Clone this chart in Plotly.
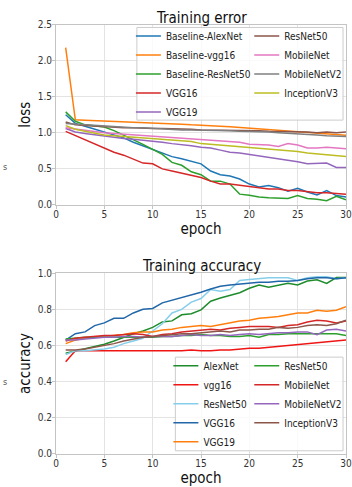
import plotly.graph_objects as go

FONT = "DejaVu Sans Condensed, DejaVu Sans"

epochs = list(range(1, 31))

# ---- Training error (loss) ----
loss_names = ["Baseline-AlexNet", "Baseline-vgg16", "Baseline-ResNet50", "VGG16", "VGG19",
              "ResNet50", "MobileNet", "MobileNetV2", "InceptionV3"]
loss_colors = ["#1f77b4", "#ff7f0e", "#2ca02c", "#d62728", "#9467bd",
               "#8c564b", "#e377c2", "#7f7f7f", "#bcbd22"]
loss_baseline_alexnet = [1.25, 1.13, 1.09, 1.05, 1.02, 0.97, 0.93, 0.87, 0.82, 0.77, 0.72, 0.67, 0.64, 0.61, 0.57,
                         0.47, 0.42, 0.40, 0.36, 0.29, 0.25, 0.27, 0.24, 0.19, 0.23, 0.18, 0.14, 0.20, 0.13, 0.11]
loss_baseline_vgg16 = [2.18, 1.18, 1.175, 1.17, 1.16, 1.155, 1.15, 1.15, 1.145, 1.14, 1.14, 1.13, 1.12, 1.11, 1.10,
                       1.095, 1.09, 1.085, 1.075, 1.07, 1.06, 1.05, 1.04, 1.03, 1.02, 1.01, 1.00, 0.985, 0.97, 0.965]
loss_baseline_resnet50 = [1.29, 1.16, 1.11, 1.09, 1.08, 1.03, 0.97, 0.91, 0.84, 0.77, 0.70, 0.59, 0.55, 0.46, 0.42,
                          0.33, 0.33, 0.29, 0.15, 0.135, 0.11, 0.10, 0.095, 0.09, 0.13, 0.09, 0.08, 0.06, 0.12, 0.07]
loss_vgg16 = [1.02, 0.96, 0.90, 0.85, 0.78, 0.73, 0.69, 0.64, 0.58, 0.57, 0.50, 0.47, 0.44, 0.41, 0.38,
              0.33, 0.29, 0.29, 0.27, 0.25, 0.24, 0.22, 0.22, 0.20, 0.20, 0.18, 0.17, 0.17, 0.16, 0.15]
loss_vgg19 = [1.06, 1.01, 0.99, 0.97, 0.95, 0.94, 0.92, 0.91, 0.90, 0.88, 0.87, 0.85, 0.84, 0.82, 0.80,
              0.79, 0.76, 0.73, 0.72, 0.70, 0.68, 0.67, 0.65, 0.63, 0.60, 0.57, 0.58, 0.58, 0.52, 0.52]
loss_resnet50 = [1.15, 1.11, 1.10, 1.09, 1.08, 1.08, 1.07, 1.07, 1.06, 1.06, 1.06, 1.06, 1.05, 1.05, 1.04,
                 1.04, 1.04, 1.04, 1.03, 1.03, 1.03, 1.02, 1.02, 1.02, 1.01, 1.01, 1.00, 1.01, 1.00, 1.01]
loss_mobilenet = [1.07, 1.05, 1.03, 1.01, 1.00, 0.99, 0.98, 0.97, 0.96, 0.95, 0.95, 0.94, 0.93, 0.92, 0.90,
                  0.89, 0.88, 0.88, 0.87, 0.84, 0.84, 0.83, 0.81, 0.85, 0.83, 0.79, 0.79, 0.80, 0.79, 0.78]
loss_mobilenetv2 = [1.13, 1.12, 1.11, 1.10, 1.09, 1.09, 1.08, 1.07, 1.07, 1.06, 1.05, 1.05, 1.04, 1.04, 1.04,
                    1.04, 1.03, 1.03, 1.02, 1.02, 1.01, 1.01, 1.00, 0.99, 0.98, 0.98, 0.97, 0.96, 0.95, 0.95]
loss_inceptionv3 = [1.10, 1.05, 1.02, 0.99, 0.97, 0.96, 0.95, 0.94, 0.93, 0.92, 0.91, 0.90, 0.89, 0.88, 0.85,
                    0.84, 0.83, 0.82, 0.81, 0.79, 0.78, 0.77, 0.76, 0.75, 0.74, 0.72, 0.71, 0.70, 0.68, 0.67]
loss_series = [loss_baseline_alexnet, loss_baseline_vgg16, loss_baseline_resnet50, loss_vgg16, loss_vgg19,
               loss_resnet50, loss_mobilenet, loss_mobilenetv2, loss_inceptionv3]

# ---- Training accuracy ----
acc_names = ["AlexNet", "vgg16", "ResNet50", "VGG16", "VGG19",
             "ResNet50", "MobileNet", "MobileNetV2", "InceptionV3"]
acc_colors = ["#1e8c2c", "#f01515", "#87ceeb", "#2066a8", "#ff7f0e",
              "#2ca02c", "#d62728", "#9467bd", "#8c564b"]
acc_alexnet = [0.557, 0.57, 0.58, 0.595, 0.607, 0.625, 0.647, 0.665, 0.68, 0.70, 0.73, 0.736, 0.77, 0.776, 0.797,
               0.845, 0.863, 0.878, 0.892, 0.917, 0.935, 0.922, 0.935, 0.944, 0.935, 0.957, 0.964, 0.944, 0.976, 0.976]
acc_vgg16 = [0.51, 0.57, 0.57, 0.57, 0.57, 0.57, 0.57, 0.57, 0.57, 0.57, 0.57, 0.57, 0.57, 0.575, 0.57,
             0.57, 0.575, 0.575, 0.58, 0.585, 0.585, 0.59, 0.595, 0.60, 0.605, 0.61, 0.615, 0.62, 0.625, 0.63]
acc_resnet50 = [0.55, 0.57, 0.57, 0.575, 0.58, 0.59, 0.61, 0.625, 0.64, 0.68, 0.72, 0.78, 0.80, 0.84, 0.86,
                0.91, 0.90, 0.91, 0.96, 0.965, 0.97, 0.975, 0.975, 0.975, 0.96, 0.975, 0.98, 0.98, 0.97, 0.975]
acc_vgg16_b = [0.63, 0.665, 0.675, 0.71, 0.725, 0.75, 0.75, 0.78, 0.80, 0.805, 0.836, 0.85, 0.868, 0.88, 0.895,
               0.913, 0.928, 0.935, 0.94, 0.945, 0.95, 0.95, 0.955, 0.955, 0.96, 0.97, 0.975, 0.975, 0.97, 0.975]
acc_vgg19 = [0.61, 0.63, 0.64, 0.645, 0.65, 0.655, 0.66, 0.67, 0.675, 0.675, 0.685, 0.69, 0.70, 0.705, 0.71,
             0.705, 0.715, 0.725, 0.735, 0.74, 0.75, 0.755, 0.76, 0.77, 0.78, 0.78, 0.795, 0.79, 0.795, 0.815]
acc_resnet50_b = [0.635, 0.64, 0.645, 0.645, 0.645, 0.645, 0.645, 0.645, 0.645, 0.645, 0.65, 0.65, 0.655, 0.655, 0.66,
                  0.655, 0.655, 0.65, 0.65, 0.655, 0.645, 0.66, 0.66, 0.665, 0.665, 0.665, 0.665, 0.665, 0.665, 0.655]
acc_mobilenet = [0.625, 0.64, 0.645, 0.65, 0.655, 0.655, 0.66, 0.665, 0.66, 0.65, 0.66, 0.665, 0.675, 0.68, 0.685,
                 0.69, 0.685, 0.695, 0.70, 0.705, 0.705, 0.705, 0.70, 0.71, 0.715, 0.73, 0.74, 0.735, 0.725, 0.735]
acc_mobilenetv2 = [0.63, 0.63, 0.635, 0.64, 0.645, 0.645, 0.65, 0.65, 0.645, 0.65, 0.65, 0.65, 0.655, 0.66, 0.655,
                   0.655, 0.66, 0.655, 0.66, 0.665, 0.66, 0.665, 0.67, 0.67, 0.675, 0.675, 0.66, 0.685, 0.69, 0.68]
acc_inceptionv3 = [0.575, 0.575, 0.58, 0.59, 0.60, 0.61, 0.625, 0.635, 0.645, 0.65, 0.655, 0.66, 0.665, 0.665, 0.67,
                   0.675, 0.68, 0.675, 0.685, 0.685, 0.69, 0.69, 0.70, 0.695, 0.70, 0.71, 0.715, 0.71, 0.72, 0.74]
acc_series = [acc_alexnet, acc_vgg16, acc_resnet50, acc_vgg16_b, acc_vgg19,
              acc_resnet50_b, acc_mobilenet, acc_mobilenetv2, acc_inceptionv3]

loss_ticks = [0.0, 0.5, 1.0, 1.5, 2.0, 2.5]
acc_ticks = [0.0, 0.2, 0.4, 0.6, 0.8, 1.0]
epoch_ticks = [0, 5, 10, 15, 20, 25, 30]

W, H = 352, 487
ML, MR = 56, 2


def py(p):
    return (H - p) / H


def px(p):
    return (p - ML) / (W - ML - MR)


# first five entries -> left legend column, last four -> right legend column
loss_legends = ["legend"] * 5 + ["legend2"] * 4
acc_legends = ["legend3"] * 5 + ["legend4"] * 4

fig = go.Figure()
for name, color, vals, lg in zip(loss_names, loss_colors, loss_series, loss_legends):
    fig.add_trace(go.Scatter(x=epochs, y=vals, mode="lines", name=name,
                             line=dict(color=color, width=1.5),
                             xaxis="x", yaxis="y", legend=lg))
for name, color, vals, lg in zip(acc_names, acc_colors, acc_series, acc_legends):
    fig.add_trace(go.Scatter(x=epochs, y=vals, mode="lines", name=name,
                             line=dict(color=color, width=1.5),
                             xaxis="x2", yaxis="y2", legend=lg))

axis_common = dict(showgrid=True, gridcolor="#e3e3e3", gridwidth=1,
                   showline=True, linecolor="#c4c4c4", linewidth=1, mirror=True,
                   ticks="outside", ticklen=3, tickcolor="#c4c4c4",
                   tickfont=dict(family=FONT, size=10, color="#333333"),
                   zeroline=False)

title_font = dict(family=FONT, size=15, color="#111111")
leg_font = dict(family=FONT, size=10, color="#222222")


def legend_at(xp, yp):
    return dict(orientation="v", x=px(xp), y=py(yp), xanchor="left", yanchor="top",
                bgcolor="rgba(0,0,0,0)", borderwidth=0, font=leg_font,
                indentation=-10, tracegroupgap=0)


frame_style = dict(type="rect", xref="paper", yref="paper", layer="above",
                   fillcolor="rgba(255,255,255,0.8)", line=dict(color="#cccccc", width=1))

fig.update_layout(
    width=W, height=H,
    margin=dict(l=ML, r=MR, t=0, b=0),
    paper_bgcolor="white", plot_bgcolor="white",
    font=dict(family=FONT, color="#222222"),
    xaxis=dict(domain=[0, 1], range=[0, 30], tickvals=epoch_ticks, anchor="y",
               ticklabelstandoff=-3, ticklabeloverflow="allow",
               title=dict(text="epoch", font=title_font, standoff=3), **axis_common),
    yaxis=dict(domain=[py(204), py(19)], range=[0, 2.5], tickvals=loss_ticks,
               tickformat=".1f", anchor="x", ticklabelstandoff=-2,
               title=dict(text="loss", font=title_font, standoff=3), **axis_common),
    xaxis2=dict(domain=[0, 1], range=[0, 30], tickvals=epoch_ticks, anchor="y2",
                ticklabelstandoff=-3, ticklabeloverflow="allow",
                title=dict(text="epoch", font=title_font, standoff=3), **axis_common),
    yaxis2=dict(domain=[py(459), py(274)], range=[0, 1.0], tickvals=acc_ticks,
                tickformat=".1f", anchor="x2", ticklabelstandoff=-2,
                title=dict(text="accuracy", font=title_font, standoff=3), **axis_common),
    legend=legend_at(137, 16),
    legend2=legend_at(257, 16),
    legend3=legend_at(175, 354),
    legend4=legend_at(257, 354),
    showlegend=True,
    shapes=[
        dict(x0=px(138), x1=px(347), y0=py(117), y1=py(22), **frame_style),
        dict(x0=px(177), x1=px(347), y0=py(456), y1=py(360), **frame_style),
    ],
    annotations=[
        dict(text="Training error", xref="paper", yref="paper", x=px(203), y=py(12),
             xanchor="center", yanchor="middle", showarrow=False,
             font=dict(family=FONT, size=15, color="#111111")),
        dict(text="Training accuracy", xref="paper", yref="paper", x=px(203), y=py(267),
             xanchor="center", yanchor="middle", showarrow=False,
             font=dict(family=FONT, size=15, color="#111111")),
        dict(text="s", xref="paper", yref="paper", x=px(4), y=py(165),
             xanchor="center", yanchor="middle", showarrow=False,
             font=dict(family=FONT, size=9, color="#555555")),
        dict(text="s", xref="paper", yref="paper", x=px(4), y=py(385),
             xanchor="center", yanchor="middle", showarrow=False,
             font=dict(family=FONT, size=9, color="#555555")),
    ],
)

fig.write_html("out.html", config={"displayModeBar": False},
               post_script="document.body.style.margin='0px';")
